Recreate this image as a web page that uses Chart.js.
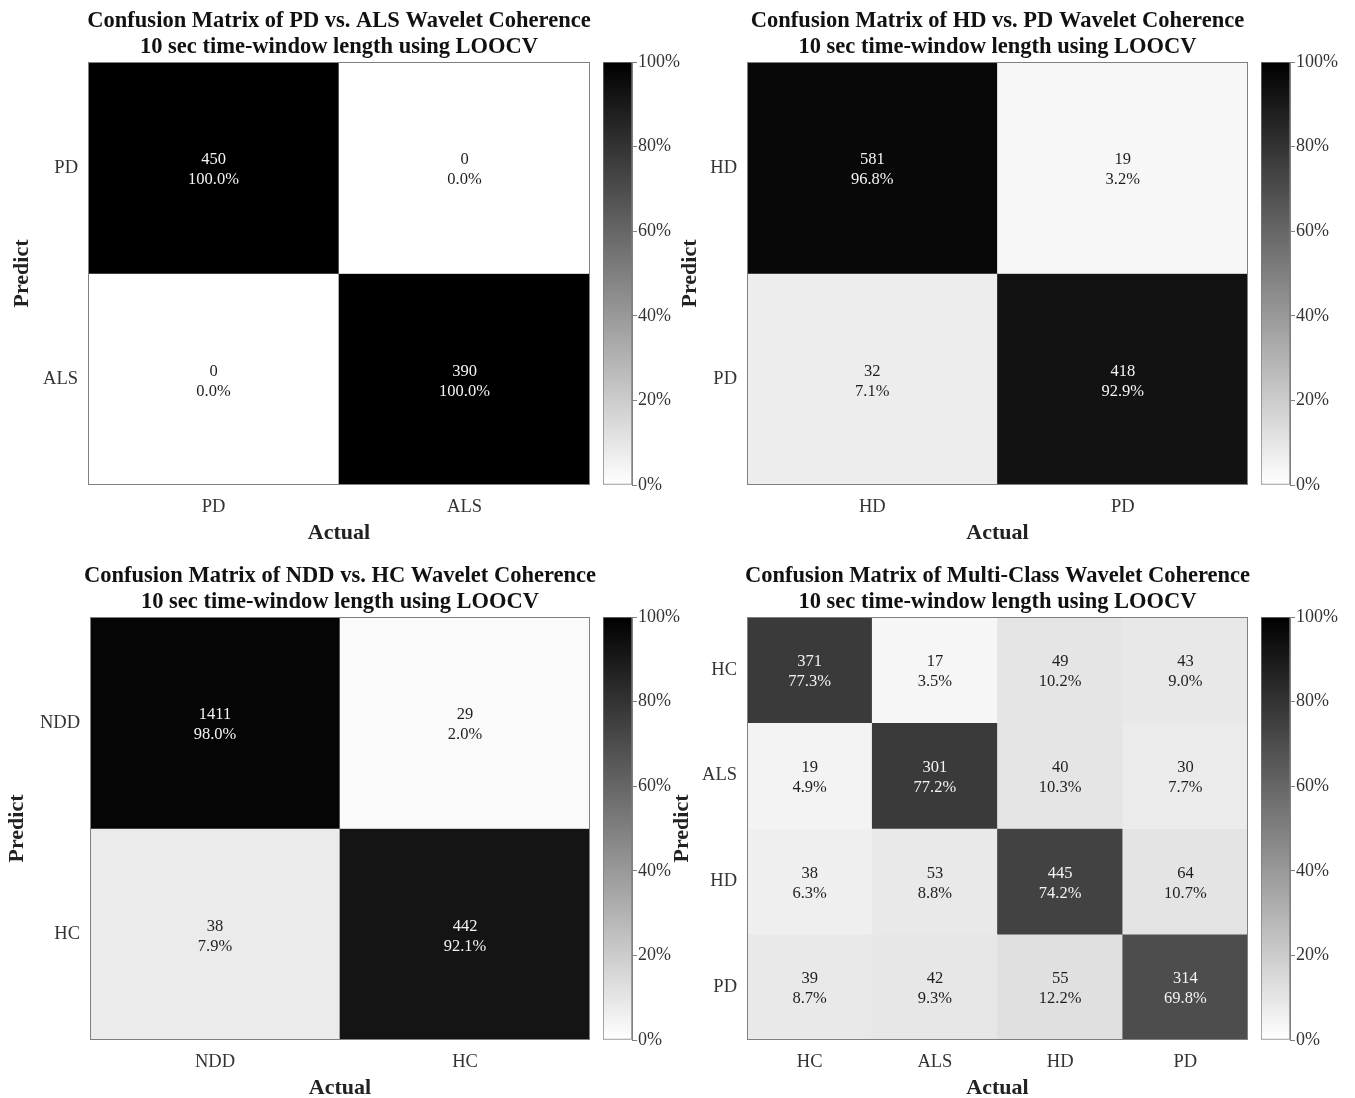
<!DOCTYPE html>
<html>
<head>
<meta charset="utf-8">
<script src="https://cdn.jsdelivr.net/npm/chart.js@4.4.1/dist/chart.umd.min.js"></script>
<style>
body { margin: 0; background: #fff; width: 1355px; height: 1098px; position: relative; overflow: hidden; }
canvas { position: absolute; }
</style>
</head>
<body>
<canvas id="cmA" width="678" height="550" style="left:0;top:0"></canvas>
<canvas id="cmB" width="675" height="550" style="left:660px;top:0"></canvas>
<canvas id="cmC" width="680" height="550" style="left:0;top:555px"></canvas>
<canvas id="cmD" width="675" height="550" style="left:660px;top:555px"></canvas>
<canvas id="cbA" width="100" height="550" style="left:595px;top:0"></canvas>
<canvas id="cbB" width="100" height="550" style="left:1253px;top:0"></canvas>
<canvas id="cbC" width="100" height="550" style="left:595px;top:555px"></canvas>
<canvas id="cbD" width="100" height="550" style="left:1253px;top:555px"></canvas>
<script>
Chart.defaults.font.family = '"Liberation Serif", "Times New Roman", serif';
Chart.defaults.color = '#333';

var subTitle = '10 sec time-window length using LOOCV';

// PD vs ALS
var pdAlsClasses = ['PD', 'ALS'];
var pdAlsCounts = [[450, 0], [0, 390]];
var pdAlsPct = [[100.0, 0.0], [0.0, 100.0]];

// HD vs PD
var hdPdClasses = ['HD', 'PD'];
var hdPdCounts = [[581, 19], [32, 418]];
var hdPdPct = [[96.8, 3.2], [7.1, 92.9]];

// NDD vs HC
var nddHcClasses = ['NDD', 'HC'];
var nddHcCounts = [[1411, 29], [38, 442]];
var nddHcPct = [[98.0, 2.0], [7.9, 92.1]];

// multi-class
var multiClasses = ['HC', 'ALS', 'HD', 'PD'];
var multiCounts = [[371, 17, 49, 43], [19, 301, 40, 30], [38, 53, 445, 64], [39, 42, 55, 314]];
var multiPct = [[77.3, 3.5, 10.2, 9.0], [4.9, 77.2, 10.3, 7.7], [6.3, 8.8, 74.2, 10.7], [8.7, 9.3, 12.2, 69.8]];

var cbTicks = [0, 20, 40, 60, 80, 100];

function shade(p) {
    var v = Math.round(255 * (1 - p / 100));
    return 'rgb(' + v + ',' + v + ',' + v + ')';
}

// numbers inside the cells + outline of the matrix
var cellText = {
    id: 'cellText',
    afterDatasetsDraw: function (chart) {
        var ctx = chart.ctx, a = chart.chartArea;
        ctx.save();
        ctx.font = '16.5px "Liberation Serif"';
        ctx.textAlign = 'center';
        ctx.textBaseline = 'middle';
        chart.data.datasets.forEach(function (ds, r) {
            chart.getDatasetMeta(r).data.forEach(function (bar, c) {
                var p = ds.pct[c], yc = (bar.y + bar.base) / 2;
                ctx.fillStyle = p >= 50 ? '#f4f4f4' : '#1e1e1e';
                ctx.fillText(String(ds.counts[c]), bar.x, yc - 8);
                ctx.fillText(p.toFixed(1) + '%', bar.x, yc + 12);
            });
        });
        ctx.strokeStyle = '#808080';
        ctx.lineWidth = 1;
        ctx.strokeRect(Math.round(a.left) + 0.5, Math.round(a.top) + 0.5, Math.round(a.right - a.left) - 1, Math.round(a.bottom - a.top) - 1);
        ctx.restore();
    }
};

function makeMatrix(id, name, classes, counts, pct, yw, titlePad) {
    var n = classes.length;
    new Chart(document.getElementById(id), {
        type: 'bar',
        data: {
            labels: classes,
            datasets: classes.map(function (cls, r) {
                return {
                    label: cls,
                    data: classes.map(function () { return [r, r + 1]; }),
                    backgroundColor: pct[r].map(shade),
                    counts: counts[r],
                    pct: pct[r],
                    borderWidth: 0,
                    grouped: false,
                    barPercentage: 1,
                    categoryPercentage: 1
                };
            })
        },
        options: {
            responsive: false,
            animation: false,
            layout: { padding: 0 },
            plugins: {
                legend: { display: false },
                tooltip: { enabled: false },
                title: {
                    display: true,
                    text: [name, subTitle],
                    color: '#111',
                    font: { size: 22.5, weight: 'bold', lineHeight: 1.15 },
                    padding: { top: 8, bottom: 2.25 }
                }
            },
            scales: {
                x: {
                    grid: { display: false, drawTicks: false },
                    border: { display: false },
                    ticks: { font: { size: 18.5 }, padding: 11, color: '#333' },
                    title: { display: true, text: 'Actual', color: '#222', font: { size: 22, weight: 'bold', lineHeight: 1.2 }, padding: { top: 0, bottom: 3 } },
                    afterFit: function (s) { s.height = 65; }
                },
                y: {
                    min: 0,
                    max: n,
                    reverse: true,
                    grid: { display: false, drawTicks: false },
                    border: { display: false },
                    afterBuildTicks: function (s) {
                        s.ticks = classes.map(function (c, i) { return { value: i + 0.5 }; });
                    },
                    ticks: {
                        autoSkip: false,
                        font: { size: 18.5 },
                        padding: 10,
                        color: '#333',
                        callback: function (v, i) { return classes[i]; }
                    },
                    title: { display: true, text: 'Predict', color: '#222', font: { size: 22, weight: 'bold', lineHeight: 1.2 }, padding: { top: titlePad, bottom: 0 } },
                    afterFit: function (s) { s.width = yw; }
                },
                side: {
                    type: 'linear',
                    axis: 'y',
                    position: 'right',
                    display: true,
                    grid: { display: false, drawTicks: false },
                    border: { display: false },
                    ticks: { display: false },
                    afterFit: function (s) { s.width = yw; }
                }
            }
        },
        plugins: [cellText]
    });
}

function makeColorbar(id) {
    new Chart(document.getElementById(id), {
        type: 'bar',
        data: {
            labels: ['cb'],
            datasets: [{
                data: [[0, 100]],
                backgroundColor: function (c) {
                    var a = c.chart.chartArea;
                    if (!a) return '#888';
                    var g = c.chart.ctx.createLinearGradient(0, a.bottom, 0, a.top);
                    g.addColorStop(0, '#ffffff');
                    g.addColorStop(1, '#000000');
                    return g;
                },
                borderColor: '#7a7a7a',
                borderWidth: 1,
                borderSkipped: false,
                barPercentage: 1,
                categoryPercentage: 1
            }]
        },
        options: {
            responsive: false,
            animation: false,
            layout: { padding: { left: 8, top: 62, bottom: 65, right: 0 } },
            plugins: { legend: { display: false }, tooltip: { enabled: false } },
            scales: {
                x: { display: false },
                y: {
                    position: 'right',
                    min: 0,
                    max: 100,
                    afterBuildTicks: function (s) {
                        s.ticks = cbTicks.map(function (v) { return { value: v }; });
                    },
                    ticks: { font: { size: 18 }, color: '#333', padding: 1, callback: function (v) { return v + '%'; } },
                    grid: { drawOnChartArea: false, drawTicks: true, tickLength: 5, color: '#808080' },
                    border: { display: true, color: '#808080' },
                    afterFit: function (s) { s.width = 63; }
                }
            }
        }
    });
}

makeMatrix('cmA', 'Confusion Matrix of PD vs. ALS Wavelet Coherence', pdAlsClasses, pdAlsCounts, pdAlsPct, 88, 9);
makeMatrix('cmB', 'Confusion Matrix of HD vs. PD Wavelet Coherence', hdPdClasses, hdPdCounts, hdPdPct, 87, 17);
makeMatrix('cmC', 'Confusion Matrix of NDD vs. HC Wavelet Coherence', nddHcClasses, nddHcCounts, nddHcPct, 90, 4);
makeMatrix('cmD', 'Confusion Matrix of Multi-Class Wavelet Coherence', multiClasses, multiCounts, multiPct, 87, 9);
makeColorbar('cbA');
makeColorbar('cbB');
makeColorbar('cbC');
makeColorbar('cbD');
</script>
</body>
</html>
